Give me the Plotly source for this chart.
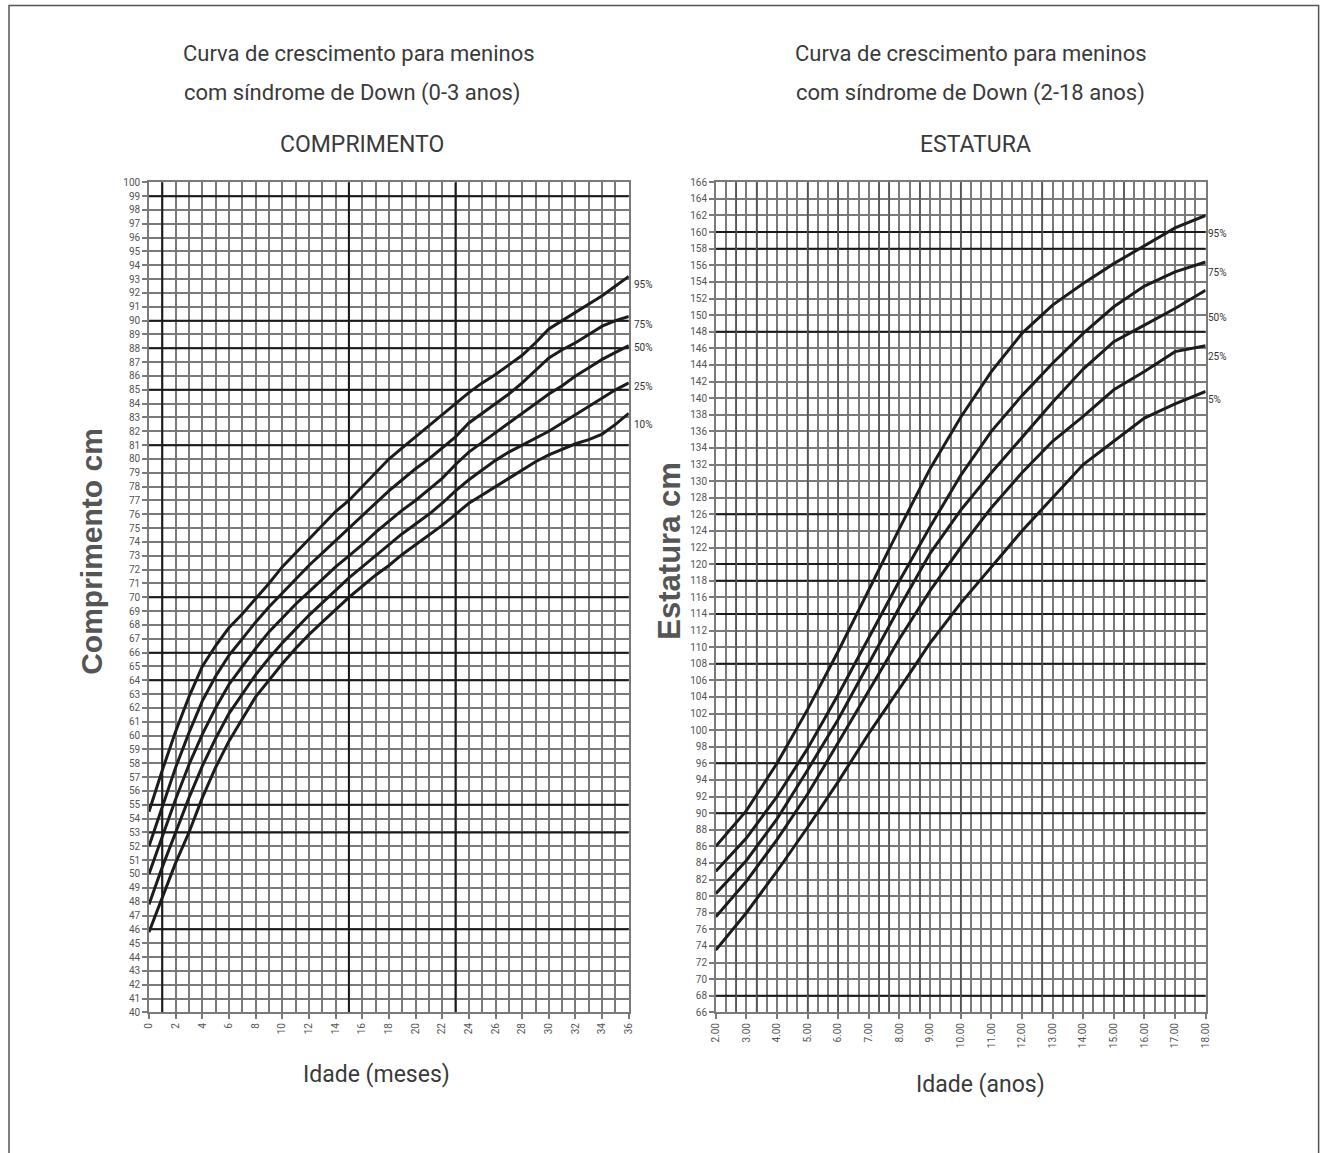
import plotly.graph_objects as go

# ---------------- DATA ----------------
# Left chart: length (cm) by age in months, 0-36
months = list(range(0, 37))
len_p95 = [54.5, 57.5, 60.3, 62.8, 65.0, 66.5, 67.8, 68.8, 69.9, 71.0, 72.2, 73.2, 74.2, 75.2, 76.2, 77.0,
           78.0, 79.0, 80.0, 80.8, 81.6, 82.4, 83.2, 84.0, 84.8, 85.5, 86.1, 86.8, 87.5, 88.4, 89.4, 90.0,
           90.6, 91.2, 91.8, 92.5, 93.2]
len_p75 = [52.0, 54.8, 57.7, 60.2, 62.5, 64.3, 65.8, 67.0, 68.2, 69.3, 70.3, 71.3, 72.3, 73.2, 74.1, 75.0,
           75.9, 76.8, 77.7, 78.5, 79.3, 80.0, 80.8, 81.6, 82.6, 83.3, 84.0, 84.7, 85.5, 86.4, 87.3, 87.9,
           88.4, 89.0, 89.6, 90.0, 90.3]
len_p50 = [50.0, 52.7, 55.4, 57.9, 60.1, 62.0, 63.7, 65.0, 66.3, 67.5, 68.5, 69.5, 70.4, 71.3, 72.2, 73.0,
           73.8, 74.7, 75.5, 76.3, 77.0, 77.8, 78.6, 79.6, 80.5, 81.2, 81.9, 82.6, 83.3, 84.0, 84.7, 85.3,
           86.0, 86.6, 87.2, 87.7, 88.2]
len_p25 = [47.8, 50.5, 53.0, 55.5, 57.8, 59.8, 61.6, 63.0, 64.4, 65.6, 66.7, 67.7, 68.7, 69.6, 70.5, 71.4,
           72.2, 73.0, 73.8, 74.6, 75.3, 76.0, 76.8, 77.7, 78.5, 79.2, 79.9, 80.5, 81.0, 81.5, 82.0, 82.6,
           83.2, 83.8, 84.4, 85.0, 85.5]
len_p10 = [45.8, 48.3, 50.8, 53.0, 55.5, 57.7, 59.6, 61.2, 62.8, 64.0, 65.2, 66.3, 67.3, 68.2, 69.1, 70.0,
           70.8, 71.6, 72.3, 73.1, 73.8, 74.5, 75.2, 76.0, 76.8, 77.4, 78.0, 78.6, 79.2, 79.8, 80.3, 80.7,
           81.1, 81.4, 81.8, 82.5, 83.3]
len_labels = ["95%", "75%", "50%", "25%", "10%"]

# Right chart: stature (cm) by age in years, 2-18
ages = list(range(2, 19))
st_p95 = [86.0, 90.3, 96.0, 102.5, 109.5, 117.0, 124.3, 131.5, 137.7, 143.2, 147.8, 151.2, 153.8, 156.2,
          158.3, 160.5, 162.0]
st_p75 = [83.0, 87.0, 92.0, 97.8, 104.3, 111.2, 118.0, 124.5, 130.7, 136.0, 140.3, 144.2, 147.8, 151.0,
          153.5, 155.2, 156.4]
st_p50 = [80.3, 84.3, 89.3, 95.2, 101.3, 108.0, 114.8, 121.3, 126.5, 131.0, 135.3, 139.5, 143.5, 146.8,
          148.8, 150.8, 153.0]
st_p25 = [77.5, 81.8, 86.8, 92.3, 98.5, 104.8, 111.0, 116.8, 122.0, 126.8, 131.0, 134.8, 137.8, 141.0,
          143.2, 145.6, 146.3]
st_p5 = [73.5, 78.0, 83.0, 88.3, 93.8, 99.6, 105.0, 110.5, 115.3, 119.7, 124.0, 128.0, 132.0, 134.8,
         137.6, 139.3, 140.8]
st_labels = ["95%", "75%", "50%", "25%", "5%"]

left_xticks = list(range(0, 37, 2))
left_yticks = list(range(40, 101))
right_xticks = list(range(2, 19))
right_xticktext = [f"{a}.00" for a in right_xticks]
right_yticks = list(range(66, 167, 2))

# darker (scan-artifact) grid lines
left_dark_y = [99, 90, 88, 85, 81, 70, 66, 64, 55, 53, 46]
left_dark_x = [1, 15, 23]
right_dark_y = [160, 158, 148, 126, 120, 118, 114, 108, 96, 90, 68]
right_mid_x = [2 + 2 / 3, 3 + 1 / 3, 5, 6, 7 + 1 / 3, 7 + 2 / 3, 8 + 2 / 3, 10, 12 + 2 / 3, 15 + 1 / 3]

# percentile label offsets below the curve end (px)
left_label_drop = [8, 8, 2, 4, 11]
right_label_drop = [18, 11, 27, 11, 8]

# ---------------- FIGURE ----------------
W, H = 1326, 1153
FONT_N = "Roboto, Liberation Sans Narrow, sans-serif"
GRID = "#7a7a7a"
LINE = "#1c1c1c"
TXT = "#3a3a3a"

# screenshot compensation (observed uniform shrink about the centre)
SX, OX = 0.992, 5.0
SY, OY = 0.9916, 4.5


def px(x):
    return ((x - OX) / SX) / W


def py(y):
    return 1 - ((y - OY) / SY) / H


fig = go.Figure()

for vals in [len_p95, len_p75, len_p50, len_p25, len_p10]:
    fig.add_trace(go.Scatter(x=months, y=vals, mode="lines", line=dict(color=LINE, width=3),
                             xaxis="x", yaxis="y", showlegend=False, hoverinfo="skip"))
for vals in [st_p95, st_p75, st_p50, st_p25, st_p5]:
    fig.add_trace(go.Scatter(x=ages, y=vals, mode="lines", line=dict(color=LINE, width=3),
                             xaxis="x2", yaxis="y2", showlegend=False, hoverinfo="skip"))

axis_common = dict(showgrid=True, gridcolor=GRID, gridwidth=1.5, zeroline=False,
                   showline=True, linecolor=GRID, linewidth=1.5, mirror=True,
                   ticks="outside", ticklen=5, tickcolor=GRID, tickwidth=1.5,
                   tickfont=dict(family=FONT_N, size=10, color="#555"))

fig.update_layout(
    width=W, height=H, margin=dict(l=0, r=0, t=0, b=0),
    paper_bgcolor="white", plot_bgcolor="white",
    xaxis=dict(domain=[px(148), px(628)], range=[0, 36], anchor="y",
               tickmode="array", tickvals=left_xticks, ticktext=[str(v) for v in left_xticks],
               tickangle=-90,
               minor=dict(dtick=1, showgrid=True, gridcolor=GRID, gridwidth=1.5, ticks=""),
               **axis_common),
    yaxis=dict(domain=[py(1013), py(182)], range=[40, 100], anchor="x",
               tickmode="array", tickvals=left_yticks, ticktext=[str(v) for v in left_yticks],
               **axis_common),
    xaxis2=dict(domain=[px(715), px(1205)], range=[2, 18], anchor="y2",
                tickmode="array", tickvals=right_xticks, ticktext=right_xticktext,
                tickangle=-90,
                minor=dict(dtick=1 / 3, tick0=2, showgrid=True, gridcolor=GRID, gridwidth=1.5, ticks=""),
                **axis_common),
    yaxis2=dict(domain=[py(1013), py(182)], range=[66, 166], anchor="x2",
                tickmode="array", tickvals=right_yticks, ticktext=[str(v) for v in right_yticks],
                **axis_common),
)

shapes = []
DARK = dict(color="#1a1a1a", width=2)
MID = dict(color="#555", width=1.5)
for yv in left_dark_y:
    shapes.append(dict(type="line", xref="x", yref="y", x0=0, x1=36, y0=yv, y1=yv, line=DARK, layer="between"))
for xv in left_dark_x:
    shapes.append(dict(type="line", xref="x", yref="y", x0=xv, x1=xv, y0=40, y1=100, line=DARK, layer="between"))
for yv in right_dark_y:
    shapes.append(dict(type="line", xref="x2", yref="y2", x0=2, x1=18, y0=yv, y1=yv, line=DARK, layer="between"))
for xv in right_mid_x:
    shapes.append(dict(type="line", xref="x2", yref="y2", x0=xv, x1=xv, y0=66, y1=166, line=MID, layer="between"))
# outer frame
shapes.append(dict(type="rect", xref="paper", yref="paper", x0=px(8), x1=px(1318), y0=-0.05, y1=py(5),
                   line=dict(color="#555", width=1.5)))
fig.update_layout(shapes=shapes)

ann = []


def txt(x, y, s, size=22, family=FONT_N, color=TXT, angle=0, bold=False):
    if bold:
        s = f"<b>{s}</b>"
    ann.append(dict(x=px(x), y=py(y), xref="paper", yref="paper", text=s, showarrow=False,
                    font=dict(family=family, size=size, color=color), textangle=angle,
                    xanchor="center", yanchor="middle"))


txt(358, 53, "Curva de crescimento para meninos")
txt(352, 93, "com síndrome de Down (0-3 anos)")
txt(361, 144, "COMPRIMENTO", size=23)
txt(970, 53, "Curva de crescimento para meninos")
txt(970, 93, "com síndrome de Down (2-18 anos)")
txt(975, 144, "ESTATURA", size=23)
txt(376, 1075, "Idade (meses)", size=23)
txt(980, 1085, "Idade (anos)", size=23)
txt(91, 551, "Comprimento cm", size=30, family="Liberation Sans, Arial, sans-serif", color="#555",
    angle=-90, bold=True)
txt(669, 551, "Estatura cm", size=31, family="Liberation Sans, Arial, sans-serif", color="#555",
    angle=-90, bold=True)

for lab, vals, d in zip(len_labels, [len_p95, len_p75, len_p50, len_p25, len_p10], left_label_drop):
    ann.append(dict(x=months[-1], y=vals[-1], xref="x", yref="y", text=lab, showarrow=False,
                    xanchor="left", yanchor="middle", xshift=3, yshift=-d,
                    font=dict(family=FONT_N, size=10, color="#333")))
for lab, vals, d in zip(st_labels, [st_p95, st_p75, st_p50, st_p25, st_p5], right_label_drop):
    ann.append(dict(x=ages[-1], y=vals[-1], xref="x2", yref="y2", text=lab, showarrow=False,
                    xanchor="left", yanchor="middle", xshift=0, yshift=-d,
                    font=dict(family=FONT_N, size=10, color="#333")))

fig.update_layout(annotations=ann)
fig.write_html("out.html")
